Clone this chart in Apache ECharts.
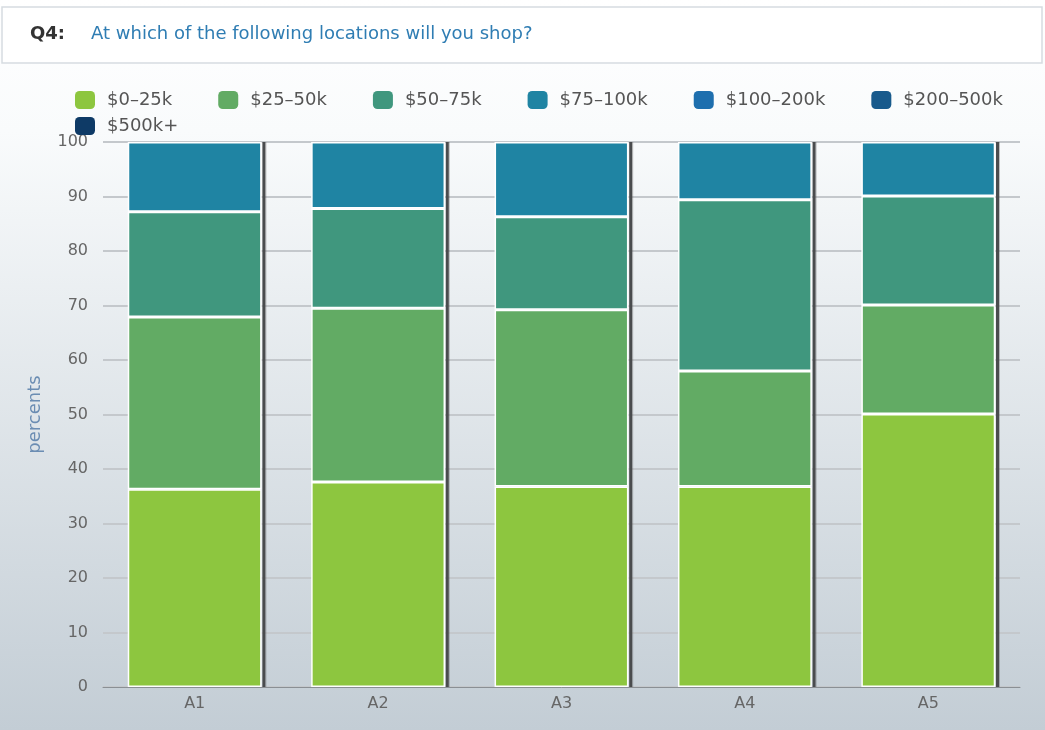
<!DOCTYPE html>
<html>
<head>
<meta charset="utf-8">
<script src="https://cdn.jsdelivr.net/npm/echarts@6/dist/echarts.min.js"></script>
<style>
html,body{margin:0;padding:0;width:1045px;height:730px;overflow:hidden;}
#chart{width:1045px;height:730px;}
</style>
</head>
<body>
<div id="chart"></div>
<script>
var categories = ['A1', 'A2', 'A3', 'A4', 'A5'];
var seriesNames = ['$0–25k', '$25–50k', '$50–75k', '$75–100k', '$100–200k', '$200–500k', '$500k+'];
var v0_25 = [36.3, 37.6, 36.8, 36.8, 50.1];
var v25_50 = [31.6, 31.9, 32.4, 21.2, 20.0];
var v50_75 = [19.3, 18.3, 17.1, 31.4, 20.0];
var v75_100 = [12.8, 12.2, 13.7, 10.6, 9.9];
var v100_200 = [];
var v200_500 = [];
var v500plus = [];
var yTicks = [0, 10, 20, 30, 40, 50, 60, 70, 80, 90, 100];

var colors = ['#8dc63f', '#62ab64', '#40977e', '#1f84a3', '#1e6fae', '#185a8c', '#0e3a66'];
var values = [v0_25, v25_50, v50_75, v75_100, v100_200, v200_500, v500plus];
var GAP = 0.27;

var FONT = 'DejaVu Sans';
var series = seriesNames.map(function (n, i) {
  return {
    name: n,
    type: 'bar',
    stack: 'total',
    barCategoryGap: (GAP * 100) + '%',
    data: values[i],
    z: 3,
    itemStyle: {
      color: colors[i],
      borderColor: '#ffffff',
      borderWidth: 1.5
    },
    emphasis: { disabled: true }
  };
});

// totals per category (for the dark edge drawn on the right of each column)
var totals = categories.map(function (c, k) {
  var s = 0;
  values.forEach(function (arr) { if (arr[k] != null) s += arr[k]; });
  return [k, s];
});

series.push({
  type: 'custom',
  name: 'edge',
  data: totals,
  z: 2,
  silent: true,
  renderItem: function (params, api) {
    var base = api.coord([api.value(0), 0]);
    var top = api.coord([api.value(0), api.value(1)]);
    var band = api.size([1, 0])[0];
    var bw = band * (1 - GAP);
    var xr = base[0] + bw / 2 + 0.75;
    return {
      type: 'group',
      children: [
        { type: 'rect', shape: { x: xr, y: top[1], width: 3, height: base[1] - top[1] }, style: { fill: '#4a4c4e' } },
        { type: 'rect', shape: { x: xr + 3, y: top[1], width: 1, height: base[1] - top[1] }, style: { fill: 'rgba(80,80,80,0.35)' } }
      ]
    };
  }
});

var legendText = { fontFamily: FONT, fontSize: 18, color: '#555555', padding: [0, 0, 0, 7] };
var chart = echarts.init(document.getElementById('chart'), null, { renderer: 'canvas' });
chart.setOption({
  animation: false,
  backgroundColor: {
    type: 'linear', x: 0, y: 0, x2: 0, y2: 1,
    colorStops: [
      { offset: 0, color: '#ffffff' },
      { offset: 0.18, color: '#f9fbfc' },
      { offset: 1, color: '#c3cdd5' }
    ]
  },
  graphic: [
    {
      type: 'rect',
      shape: { x: 2, y: 7, width: 1040, height: 56 },
      style: { fill: '#ffffff', stroke: '#d6dce1', lineWidth: 1.5 },
      z: 0
    },
    {
      type: 'text',
      left: 30, top: 25,
      style: { text: 'Q4:', fontFamily: FONT, fontSize: 18, fontWeight: 'bold', fill: '#333333' }
    },
    {
      type: 'text',
      left: 91, top: 25,
      style: { text: 'At which of the following locations will you shop?', fontFamily: FONT, fontSize: 18, fill: '#2f7db3' }
    }
  ],
  legend: [
    {
      data: seriesNames.slice(0, 6),
      left: 75, top: 91, padding: 0,
      itemWidth: 20, itemHeight: 18, itemGap: 46,
      icon: 'roundRect',
      itemStyle: { borderWidth: 0 },
      textStyle: legendText,
      selectedMode: false
    },
    {
      data: seriesNames.slice(6),
      left: 75, top: 117, padding: 0,
      itemWidth: 20, itemHeight: 18,
      icon: 'roundRect',
      itemStyle: { borderWidth: 0 },
      textStyle: legendText,
      selectedMode: false
    }
  ],
  grid: { left: 103, right: 25, top: 142, bottom: 43, containLabel: false },
  xAxis: {
    type: 'category',
    data: categories,
    axisLine: { show: true, lineStyle: { color: '#8a8f94', width: 1 } },
    axisTick: { show: false },
    axisLabel: { fontFamily: FONT, fontSize: 16, color: '#666666', margin: 9 }
  },
  yAxis: {
    type: 'value',
    min: 0, max: 100, interval: 10,
    name: 'percents',
    nameLocation: 'middle',
    nameGap: 59,
    nameTextStyle: { fontFamily: FONT, fontSize: 18, color: '#6b8db3' },
    axisLine: { show: false },
    axisTick: { show: false },
    axisLabel: {
      fontFamily: FONT, fontSize: 16, color: '#666666', margin: 15,
      formatter: function (v) { return yTicks.indexOf(v) >= 0 ? String(v) : ''; }
    },
    splitLine: { show: true, lineStyle: { color: '#c4c8cc', width: 2 } }
  },
  series: series
});
</script>
</body>
</html>
